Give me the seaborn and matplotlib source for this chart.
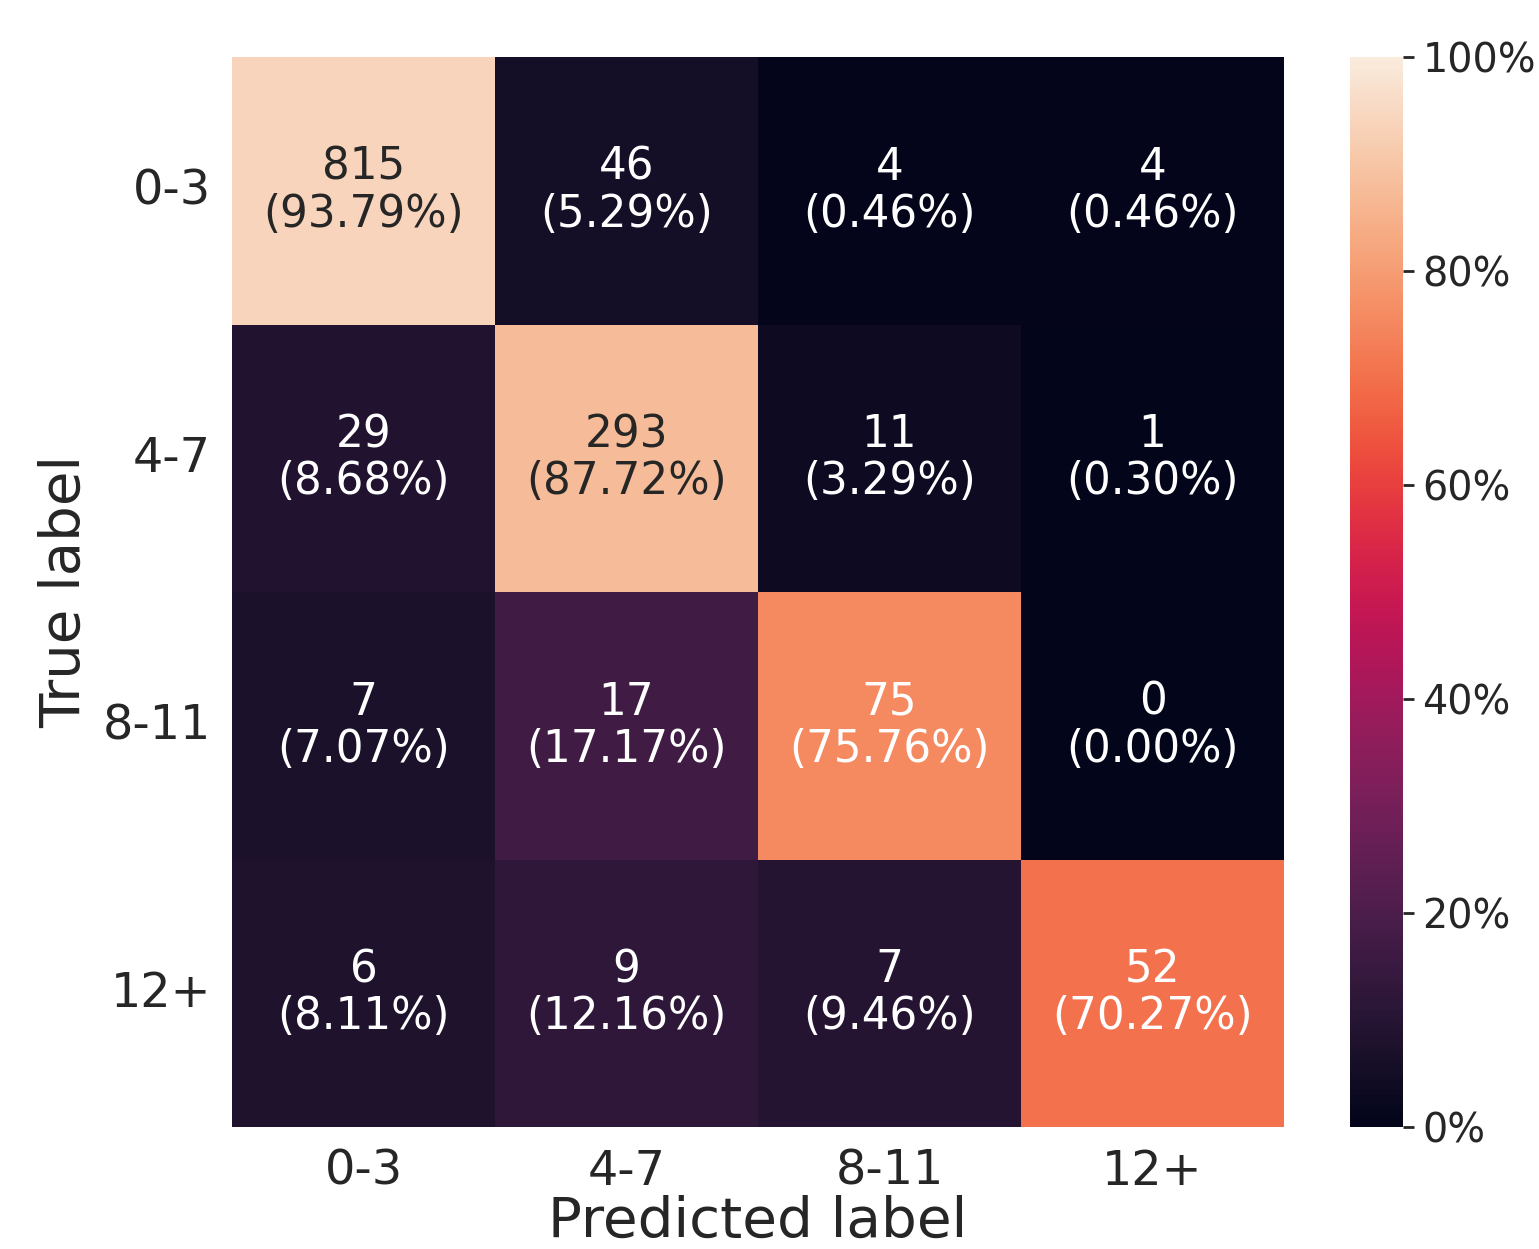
import numpy as np
import pandas as pd
import matplotlib
matplotlib.use("Agg")
import matplotlib.pyplot as plt
import seaborn as sns
from matplotlib.ticker import FuncFormatter

# Age-group confusion matrix (rows: true, columns: predicted)
class_labels = ["0-3", "4-7", "8-11", "12+"]
row_0_3 = [815, 46, 4, 4]
row_4_7 = [29, 293, 11, 1]
row_8_11 = [7, 17, 75, 0]
row_12p = [6, 9, 7, 52]

counts = np.array([row_0_3, row_4_7, row_8_11, row_12p])
ratios = counts / counts.sum(axis=1, keepdims=True)

annot = np.array([[f"{c}\n({r * 100:.2f}%)" for c, r in zip(crow, rrow)]
                  for crow, rrow in zip(counts, ratios)])

df = pd.DataFrame(ratios, index=class_labels, columns=class_labels)

sns.set_theme(style="white")
plt.rcParams["font.family"] = ["DejaVu Sans"]

fig = plt.figure(figsize=(7.695, 6.245), dpi=200)
ax = fig.add_axes([232 / 1539, 1 - 1127 / 1249, 1052 / 1539, 1070 / 1249])
cax = fig.add_axes([1350 / 1539, 1 - 1127 / 1249, 53 / 1539, 1070 / 1249])

sns.heatmap(df, annot=annot, fmt="", cmap="rocket", vmin=0, vmax=1,
            ax=ax, cbar_ax=cax, annot_kws={"fontsize": 15.7, "linespacing": 1.12},
            cbar_kws={"ticks": [0, 0.2, 0.4, 0.6, 0.8, 1.0]})

ax.set_xlabel("Predicted label", fontsize=20.3, color=".15", labelpad=0)
ax.set_ylabel("True label", fontsize=20.2, color=".15", labelpad=4)
ax.tick_params(axis="both", length=0, labelsize=17.2, colors=".15", pad=7.5)
ax.set_yticklabels(class_labels, rotation=0)
ax.set_xticklabels(class_labels, rotation=0)

cax.yaxis.set_major_formatter(FuncFormatter(lambda v, _: f"{v * 100:.0f}%"))
cax.tick_params(axis="y", length=4, width=1, labelsize=14.3, colors=".15", pad=3)
for spine in cax.spines.values():
    spine.set_visible(False)

fig.savefig("out.png", dpi=200)
